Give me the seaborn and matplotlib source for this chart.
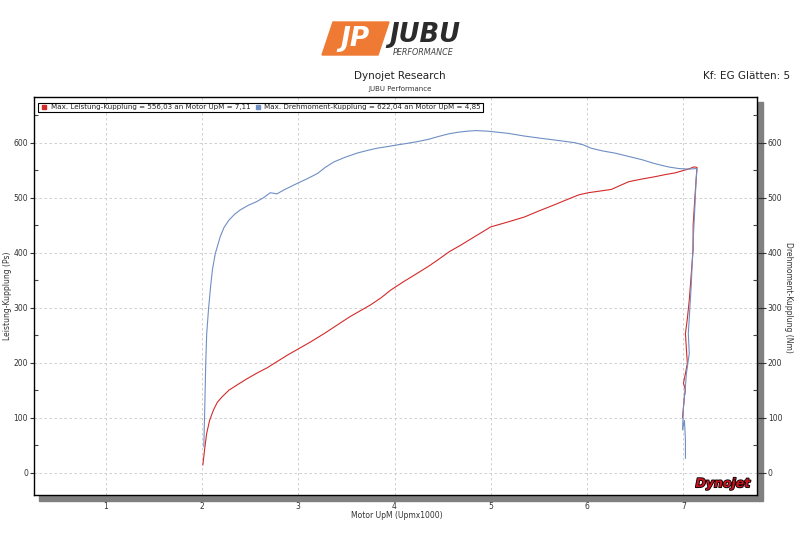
import matplotlib
matplotlib.use("Agg")
import matplotlib.pyplot as plt
import matplotlib.patheffects as pe
from matplotlib.patches import Rectangle, Polygon
from matplotlib.lines import Line2D
from matplotlib.ticker import MultipleLocator
import seaborn as sns
import pandas as pd

# ---------------- data ----------------
rpm_power = [2.01, 2.03, 2.05, 2.08, 2.12, 2.16, 2.21, 2.28, 2.36, 2.46, 2.57, 2.68,
             2.78, 2.88, 2.99, 3.13, 3.27, 3.40, 3.54, 3.65, 3.75, 3.86, 3.96, 4.10,
             4.24, 4.35, 4.45, 4.57, 4.69, 4.83, 5.00, 5.18, 5.35, 5.50, 5.63, 5.77,
             5.91, 6.01, 6.13, 6.25, 6.34, 6.43, 6.57, 6.70, 6.81, 6.91, 7.05, 7.11,
             7.14, 7.13, 7.12, 7.10, 7.10, 7.08, 7.06, 7.04, 7.02, 7.03, 7.04, 7.02,
             7.00, 7.02, 7.01, 6.99]
power_ps = [14, 45, 72, 95, 114, 128, 138, 150, 159, 170, 181, 191,
            202, 213, 224, 238, 253, 268, 284, 295, 305, 318, 332, 348,
            363, 375, 387, 402, 414, 429, 447, 456, 465, 476, 485, 495,
            505, 509, 512, 515, 522, 529, 534, 538, 542, 545, 552, 556,
            555, 530, 505, 450, 405, 360, 314, 280, 253, 225, 199, 180,
            163, 150, 140, 100]

rpm_torque = [2.02, 2.03, 2.04, 2.05, 2.07, 2.09, 2.11, 2.14, 2.19, 2.23, 2.28, 2.34,
              2.40, 2.48, 2.57, 2.64, 2.71, 2.78, 2.85, 2.92, 2.99, 3.10, 3.20, 3.28,
              3.37, 3.48, 3.61, 3.72, 3.82, 3.93, 4.03, 4.14, 4.24, 4.35, 4.45, 4.56,
              4.66, 4.76, 4.85, 4.96, 5.07, 5.18, 5.35, 5.52, 5.70, 5.87, 5.96, 6.04,
              6.16, 6.29, 6.43, 6.57, 6.70, 6.84, 6.95, 7.05, 7.14, 7.13, 7.12, 7.10,
              7.08, 7.05, 7.06, 7.03, 7.02, 7.00, 6.99, 7.01, 7.02, 7.02]
torque_nm = [47, 120, 200, 253, 300, 338, 370, 399, 429, 446, 459, 470,
             478, 486, 493, 500, 509, 507, 514, 520, 526, 535, 544, 555,
             565, 573, 581, 586, 590, 593, 596, 599, 602, 606, 611, 616,
             619, 621, 622, 621, 619, 617, 612, 608, 604, 600, 596, 590,
             585, 581, 575, 569, 562, 556, 553, 552, 553, 530, 490, 420,
             340, 253, 217, 180, 156, 120, 78, 95, 60, 26]

x_ticks = [1, 2, 3, 4, 5, 6, 7]
y_ticks = [0, 100, 200, 300, 400, 500, 600]
legend_labels = ["Max. Leistung-Kupplung = 556,03 an Motor UpM = 7,11",
                 "Max. Drehmoment-Kupplung = 622,04 an Motor UpM = 4,85"]

power_df = pd.DataFrame({"rpm": rpm_power, "val": power_ps})
torque_df = pd.DataFrame({"rpm": rpm_torque, "val": torque_nm})

RED = "#d42a2a"
BLUE = "#6f8fc4"
TXT = "#333333"

sns.set_style("white")
plt.rcParams["font.family"] = ["DejaVu Sans"]

W, H = 800, 544
fig = plt.figure(figsize=(8, 5.44), dpi=100)

def fx(px):
    return px / W

def fy(py):
    return 1 - py / H

# axes box (pixels): left 34.3, right 756.7, top 96.7, bottom 495
L, R, T, B = 34.3, 756.7, 96.7, 495.0
ax = fig.add_axes([fx(L), fy(B), (R - L) / W, (B - T) / H])
ax.set_zorder(2)
ax.set_facecolor("white")

# drop shadow behind the axes (offset ~5px right and down)
shadow = Rectangle((fx(L + 5), fy(B + 5.7)), (R - L + 1) / W, (B - T) / H,
                   transform=fig.transFigure, color="#808080", zorder=1)
fig.patches.append(shadow)

sns.lineplot(data=power_df, x="rpm", y="val", sort=False, estimator=None,
             color=RED, lw=0.8, ax=ax)
sns.lineplot(data=torque_df, x="rpm", y="val", sort=False, estimator=None,
             color=BLUE, lw=0.8, ax=ax)

ax.set_xlim(0.26, 7.76)
ax.set_ylim(-40.5, 683.6)
ax.set_xticks(x_ticks)
ax.set_yticks(y_ticks)
ax.xaxis.set_minor_locator(MultipleLocator(0.2))
ax.yaxis.set_minor_locator(MultipleLocator(50))
ax.grid(True, which="major", ls=(0, (3, 3)), color="#c8c8c8", lw=0.6)
ax.set_axisbelow(True)
for s in ax.spines.values():
    s.set_color("black")
    s.set_linewidth(1.0)
ax.tick_params(axis="x", which="major", direction="out", length=4.3, width=0.8,
               color="#555555", labelsize=5.5, labelcolor=TXT, pad=0.5)
ax.tick_params(axis="x", which="minor", direction="in", length=3.6, width=0.8,
               color="#444444", top=False)
ax.tick_params(axis="y", which="major", direction="out", length=3, width=0.8,
               color="#333333", labelsize=5.5, labelcolor=TXT, pad=1.5)
ax.tick_params(axis="y", which="minor", direction="in", length=3, width=0.8,
               color="#444444")
ax.set_xlabel("")
ax.set_ylabel("")

ax2 = ax.twinx()
ax2.set_ylim(ax.get_ylim())
ax2.set_yticks(y_ticks)
ax2.yaxis.set_minor_locator(MultipleLocator(50))
ax2.tick_params(axis="y", which="major", direction="out", length=6.5, width=0.8,
                color="#333333", labelsize=5.5, labelcolor=TXT, pad=1.5)
ax2.tick_params(axis="y", which="minor", direction="in", length=3, width=0.8,
                color="#444444")
for s in ax2.spines.values():
    s.set_visible(False)

# axis labels
fig.text(fx(397), fy(516), "Motor UpM (Upmx1000)", ha="center", va="center",
         fontsize=5.5, color=TXT)
fig.text(fx(8), fy(296), "Leistung-Kupplung (Ps)", ha="center", va="center",
         rotation=90, fontsize=5.5, color=TXT)
fig.text(fx(789), fy(297), "Drehmoment-Kupplung (Nm)", ha="center", va="center",
         rotation=-90, fontsize=5.5, color=TXT)

# titles
fig.text(fx(400), fy(76), "Dynojet Research", ha="center", va="center",
         fontsize=7.5, color="#222222")
fig.text(fx(400), fy(89), "JUBU Performance", ha="center", va="center",
         fontsize=5, color="#333333")
fig.text(fx(790), fy(76), "Kf: EG Glätten: 5", ha="right", va="center",
         fontsize=7.5, color="#222222")

# JUBU logo
logo = Polygon([(fx(322), fy(55)), (fx(378), fy(55)), (fx(389), fy(22)),
                (fx(333), fy(22))], closed=True, transform=fig.transFigure,
               color="#ef7a33", zorder=3)
fig.patches.append(logo)
fig.text(fx(355), fy(39.5), "JP", ha="center", va="center", fontsize=19,
         fontweight="bold", fontstyle="italic", color="white", zorder=4)
fig.text(fx(389), fy(42.5), "JUBU", ha="left", va="baseline", fontsize=18.5,
         fontweight="bold", fontstyle="italic", color="#2b2b2b")
fig.text(fx(393), fy(48.3), "PERFORMANCE", ha="left", va="top", fontsize=5.8,
         fontstyle="italic", color="#444444")

# legend
handles = [Line2D([], [], ls="none", marker="s", ms=3.5, color=RED),
           Line2D([], [], ls="none", marker="s", ms=3.5, color=BLUE)]
leg = ax.legend(handles, legend_labels, ncol=2, loc="upper left",
                bbox_to_anchor=(0.0055, 0.985), fontsize=5.1, frameon=True,
                fancybox=False, framealpha=1, edgecolor="black",
                borderpad=0.25, columnspacing=0.5, handlelength=1.1,
                handletextpad=0.4, borderaxespad=0)
leg.get_frame().set_linewidth(0.8)
for t in leg.get_texts():
    t.set_color("#222222")

# Dynojet badge (bottom right inside plot)
ax.text(0.991, 0.012, "Dynojet", transform=ax.transAxes, ha="right",
        va="bottom", fontsize=9, fontweight="bold", fontstyle="italic",
        color="#c8141e",
        path_effects=[pe.withStroke(linewidth=1.2, foreground="black")])

fig.savefig("out.png", dpi=100)
